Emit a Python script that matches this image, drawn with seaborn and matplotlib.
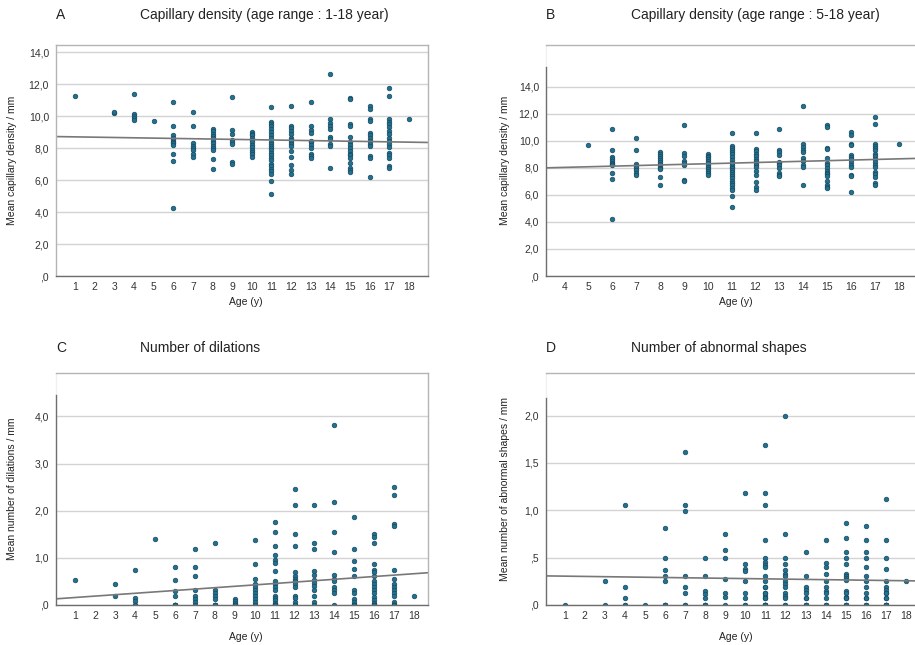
import numpy as np
import pandas as pd
import seaborn as sns
import matplotlib.pyplot as plt

# values, per age (years)
# (repeated values = points hidden under one another)
density = {
    1: [11.25],
    3: [10.2, 10.25],
    4: [11.4, 10.15, 10.0, 9.85, 9.75],
    5: [9.7],
    6: [10.9, 9.35, 8.8, 8.65, 8.5, 8.4, 8.3, 8.2, 7.65, 7.2, 4.25],
    7: [10.25, 9.35, 8.3, 8.15, 8.0, 7.85, 7.6, 7.45],
    8: [9.2, 9.05, 8.9, 8.75, 8.6, 8.45, 8.3, 8.15, 8.0, 7.9, 7.3, 6.7],
    9: [11.2, 9.1, 8.85, 8.5, 8.35, 8.25, 7.1, 7.0],
    10: [9.0, 8.9, 8.8, 8.65, 8.5, 8.35, 8.2, 8.05, 7.9, 7.75, 7.6, 7.45],
    11: [10.55, 9.65, 9.5, 9.35, 9.2, 9.0, 8.8, 8.6, 8.4, 8.25, 8.1, 8.0,
         7.85, 7.7, 7.55, 7.4, 7.25, 7.0, 6.9, 6.7, 6.55, 6.4, 5.95, 5.1],
    12: [10.6, 9.4, 9.25, 9.05, 8.85, 8.65, 8.5, 8.35, 8.25, 8.1, 7.8, 7.45,
         6.95, 6.6, 6.35],
    13: [10.9, 9.35, 9.15, 8.95, 8.45, 8.35, 8.2, 8.0, 7.6, 7.5, 7.4],
    14: [12.6, 9.8, 9.55, 9.35, 9.2, 8.7, 8.55, 8.25, 8.1, 6.75],
    15: [11.15, 11.05, 9.5, 9.4, 8.7, 8.35, 8.2, 8.0, 7.8, 7.65, 7.55, 7.4,
         7.05, 6.75, 6.6, 6.5],
    16: [10.65, 10.45, 9.8, 9.7, 8.95, 8.8, 8.65, 8.45, 8.25, 8.1, 7.5, 7.4, 6.2],
    17: [11.75, 11.25, 9.8, 9.65, 9.5, 9.3, 9.05, 8.9, 8.65, 8.45, 8.25, 8.05,
         7.7, 7.55, 7.35, 6.85, 6.75],
    18: [9.8],
}

dilations = {
    1: [0.53],
    3: [0.44, 0.19],
    4: [0.75, 0.14, 0.08, 0.0, 0.0],
    5: [1.4],
    6: [0.8, 0.53, 0.3, 0.2, 0.0, 0.0, 0.0, 0.0, 0.0, 0.0],
    7: [1.18, 0.81, 0.62, 0.32, 0.2, 0.12, 0.06, 0.0],
    8: [1.31, 0.32, 0.25, 0.19, 0.12, 0.0, 0.0, 0.0, 0.0, 0.0],
    9: [0.12, 0.08, 0.04, 0.0, 0.0, 0.0, 0.0, 0.0],
    10: [1.37, 0.88, 0.56, 0.45, 0.38, 0.32, 0.25, 0.19, 0.12, 0.06, 0.0, 0.0],
    11: [1.75, 1.55, 1.25, 1.06, 0.95, 0.9, 0.72, 0.5, 0.45, 0.38, 0.31, 0.2,
         0.15, 0.1, 0.05, 0.0, 0.0, 0.0, 0.0, 0.0, 0.0, 0.0, 0.0, 0.0],
    12: [2.46, 2.12, 1.5, 1.25, 0.69, 0.62, 0.56, 0.5, 0.44, 0.38, 0.19, 0.15,
         0.06, 0.0, 0.0],
    13: [2.12, 1.31, 1.19, 0.72, 0.63, 0.53, 0.47, 0.4, 0.31, 0.19, 0.06, 0.0],
    14: [3.81, 2.19, 1.55, 1.12, 0.63, 0.56, 0.5, 0.38, 0.31, 0.25, 0.0],
    15: [1.87, 1.18, 0.94, 0.76, 0.62, 0.31, 0.25, 0.12, 0.06, 0.0, 0.0, 0.0,
         0.0, 0.0, 0.0, 0.0],
    16: [1.5, 1.44, 1.31, 0.87, 0.75, 0.69, 0.62, 0.5, 0.44, 0.38, 0.31, 0.25,
         0.16, 0.1, 0.05, 0.0, 0.0, 0.0, 0.0],
    17: [2.5, 2.34, 1.71, 1.68, 0.75, 0.56, 0.44, 0.38, 0.31, 0.25, 0.19,
         0.06, 0.0, 0.0, 0.0, 0.0, 0.0, 0.0],
    18: [0.19],
}

abnormal = {
    1: [0.0],
    3: [0.25, 0.0],
    4: [1.06, 0.19, 0.07, 0.0, 0.0],
    5: [0.0],
    6: [0.81, 0.5, 0.37, 0.31, 0.25, 0.0, 0.0, 0.0, 0.0],
    7: [1.62, 1.06, 0.99, 0.31, 0.19, 0.125, 0.0, 0.0],
    8: [0.5, 0.31, 0.15, 0.12, 0.07, 0.0, 0.0, 0.0, 0.0],
    9: [0.75, 0.58, 0.5, 0.27, 0.125, 0.08, 0.0],
    10: [1.18, 0.43, 0.38, 0.36, 0.25, 0.125, 0.07, 0.0, 0.0],
    11: [1.69, 1.18, 1.06, 0.69, 0.5, 0.45, 0.42, 0.4, 0.31, 0.25, 0.19,
         0.125, 0.1, 0.07, 0.0, 0.0, 0.0, 0.0, 0.0, 0.07, 0.125, 0.0, 0.0, 0.19],
    12: [2.0, 0.75, 0.5, 0.43, 0.37, 0.33, 0.31, 0.25, 0.22, 0.19, 0.125,
         0.1, 0.07, 0.0, 0.0],
    13: [0.56, 0.31, 0.19, 0.16, 0.125, 0.07, 0.0, 0.0, 0.0, 0.0, 0.07],
    14: [0.69, 0.44, 0.4, 0.33, 0.25, 0.19, 0.15, 0.125, 0.07, 0.0, 0.0, 0.0],
    15: [0.87, 0.71, 0.56, 0.5, 0.43, 0.33, 0.31, 0.29, 0.26, 0.15, 0.125,
         0.08, 0.07, 0.0, 0.0, 0.07, 0.0, 0.0],
    16: [0.83, 0.69, 0.56, 0.5, 0.4, 0.31, 0.25, 0.19, 0.125, 0.07, 0.0, 0.0,
         0.0, 0.07],
    17: [1.12, 0.69, 0.5, 0.38, 0.25, 0.19, 0.16, 0.125, 0.07, 0.0, 0.0, 0.0,
         0.07, 0.125, 0.0, 0.0, 0.0],
    18: [0.25],
}

ticks_density = [0, 2, 4, 6, 8, 10, 12, 14]
labels_density = [",0", "2,0", "4,0", "6,0", "8,0", "10,0", "12,0", "14,0"]
ticks_dil = [0, 1, 2, 3, 4]
labels_dil = [",0", "1,0", "2,0", "3,0", "4,0"]
ticks_abn = [0, 0.5, 1.0, 1.5, 2.0]
labels_abn = [",0", ",5", "1,0", "1,5", "2,0"]


def to_frame(d):
    rows = [(age, v) for age, vals in d.items() for v in vals]
    return pd.DataFrame(rows, columns=["age", "value"])


df_a = to_frame(density)
df_b = df_a[df_a["age"] >= 5]
df_c = to_frame(dilations)
df_d = to_frame(abnormal)

sns.set_theme(style="white")
plt.rcParams["font.family"] = ["Liberation Sans", "DejaVu Sans"]

W, H = 915, 645
fig = plt.figure(figsize=(W / 100, H / 100), dpi=100)


def px_axes(left, top, right, bottom):
    return fig.add_axes([left / W, 1 - bottom / H, (right - left) / W, (bottom - top) / H])


dot = "#22708f"
edge = "#174a60"
frame = "#b4b4b4"
axis_dark = "#6e6e6e"

panels = [
    # df, rect, xlim, ylim, xticks, yticks, ylabels, ylabel, dark-top, xlab_y, right spine
    (df_a, (56, 45, 428, 276), (0.03, 18.97), (0, 14.44), range(1, 19),
     ticks_density, labels_density, "Mean capillary density / mm", None, -0.113, True),
    (df_b, (546, 45, 925, 276), (3.22, 19.1), (0, 17.1), range(4, 19),
     ticks_density, labels_density, "Mean capillary density / mm", 15.5, -0.113, False),
    (df_c, (56, 373, 428, 605), (0.03, 18.7), (0, 4.92), range(1, 19),
     ticks_dil, labels_dil, "Mean number of dilations / mm", 4.45, -0.138, True),
    (df_d, (546, 373, 925, 605), (0.07, 18.95), (0, 2.45), range(1, 19),
     ticks_abn, labels_abn, "Mean number of abnormal shapes / mm", 2.19, -0.138, False),
]

for df, rect, xlim, ylim, xt, yt, ytl, ylab, dark_top, xlab_y, right in panels:
    ax = px_axes(*rect)
    ax.set_xlim(*xlim)
    ax.set_ylim(*ylim)
    ax.set_yticks(yt)
    ax.set_yticklabels(ytl)
    ax.set_xticks(list(xt))
    ax.set_xticklabels([str(t) for t in xt])
    ax.yaxis.grid(True, color="#d3d3d3", linewidth=1.0)
    ax.set_axisbelow(True)
    sns.regplot(data=df, x="age", y="value", ax=ax, ci=None, truncate=False,
                scatter_kws=dict(s=11, color=dot, edgecolor=edge, linewidths=0.5, alpha=1),
                line_kws=dict(color="#787878", linewidth=1.2))
    ax.set_xlim(*xlim)
    ax.set_ylim(*ylim)
    ax.tick_params(axis="both", length=0, labelsize=7.5, colors="#333333")
    ax.tick_params(axis="y", pad=5)
    ax.tick_params(axis="x", pad=4)
    for s in ["top", "right", "left"]:
        ax.spines[s].set_color(frame)
        ax.spines[s].set_linewidth(1.0)
    ax.spines["bottom"].set_color(axis_dark)
    ax.spines["bottom"].set_linewidth(1.0)
    ax.spines["right"].set_visible(right)
    if dark_top is not None:
        ax.spines["left"].set_bounds(0, dark_top)
        ax.spines["left"].set_color(axis_dark)
        ax.plot([0, 0], [dark_top, ylim[1]], transform=ax.get_yaxis_transform(),
                color="#f0f0f0", linewidth=1.0, clip_on=False)
    ax.set_ylabel(ylab, fontsize=7.5, color="#222222")
    ax.set_xlabel("Age (y)", fontsize=7.5, color="#222222")
    ax.yaxis.set_label_coords(-0.105 if right else -0.095, 0.5)
    ax.xaxis.set_label_coords(0.51 if right else 0.515 * 369 / 379, xlab_y)
    ax.xaxis.label.set_va("center")

titles = [
    ("A", 56, 140, 15, "Capillary density (age range : 1-18 year)"),
    ("B", 546, 631, 15, "Capillary density (age range : 5-18 year)"),
    ("C", 56, 140, 348, "Number of dilations"),
    ("D", 546, 631, 348, "Number of abnormal shapes"),
]
for letter, lx, tx, ty, txt in titles:
    fig.text(lx / W, 1 - ty / H, letter, fontsize=10, va="center", ha="left", color="#222222")
    fig.text(tx / W, 1 - ty / H, txt, fontsize=10, va="center", ha="left", color="#222222")

fig.savefig("out.png", dpi=100)
